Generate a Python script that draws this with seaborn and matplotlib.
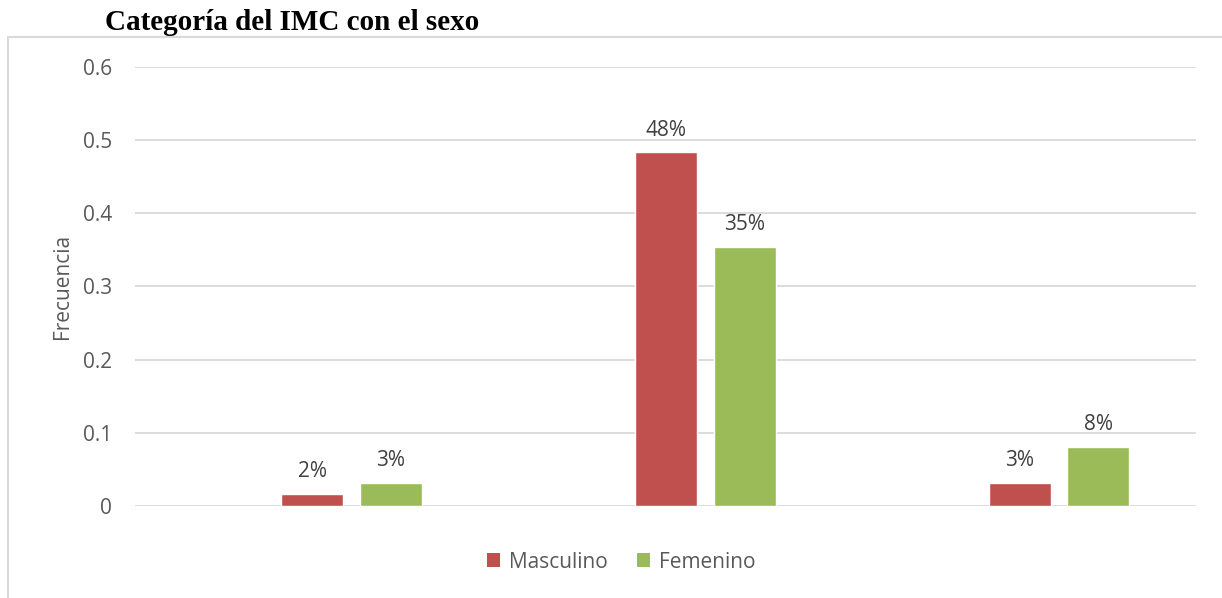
import matplotlib
matplotlib.use("Agg")
import matplotlib.pyplot as plt
from matplotlib.patches import Rectangle, Patch
import pandas as pd
import seaborn as sns

categorias = ["Bajo peso", "Normal", "Sobrepeso"]
masculino = [0.016, 0.483, 0.032]
femenino = [0.032, 0.354, 0.081]
series = ["Masculino", "Femenino"]
colores = {"Masculino": "#C0504D", "Femenino": "#9BBB59"}
y_ticks = [0, 0.1, 0.2, 0.3, 0.4, 0.5, 0.6]
y_tick_labels = ["0", "0.1", "0.2", "0.3", "0.4", "0.5", "0.6"]

df = pd.DataFrame({
    "categoria": categorias * 2,
    "sexo": [series[0]] * 3 + [series[1]] * 3,
    "frecuencia": masculino + femenino,
})

sns.set_theme(style="white")
plt.rcParams["font.family"] = ["Open Sans", "DejaVu Sans"]

fig = plt.figure(figsize=(12.22, 5.98), dpi=100)
ax = fig.add_axes([135 / 1222, 1 - 506 / 598, (1196 - 135) / 1222, (506 - 66.7) / 598])

# chart-area frame (left and top edges visible)
fig.patches.append(Rectangle((8 / 1222, -0.05), 1.2, 1 - 37 / 598 + 0.05,
                             transform=fig.transFigure, fill=False,
                             edgecolor="#D9D9D9", linewidth=1.5, zorder=0))

sns.barplot(data=df, x="categoria", y="frecuencia", hue="sexo",
            palette=colores, width=0.444, gap=0.21, legend=False,
            saturation=1, ax=ax, zorder=3)

ax.set_ylim(0, 0.6)
ax.set_xlim(-0.613, 2.388)
ax.set_yticks(y_ticks)
ax.set_yticklabels(y_tick_labels, color="#595959", fontsize=15)
ax.tick_params(axis="y", length=0, pad=16.5)
ax.set_xticks([])
ax.set_xlabel("")
ax.set_ylabel("Frecuencia", color="#595959", fontsize=15, labelpad=7)
for s in ax.spines.values():
    s.set_visible(False)
ax.yaxis.grid(True, color="#D9D9D9", linewidth=1.3)
ax.set_axisbelow(True)

for cont in ax.containers:
    ax.bar_label(cont, labels=[f"{v:.0%}" for v in cont.datavalues],
                 padding=8.5, color="#404040", fontsize=15)

fig.text(105 / 1222, 1 - 30 / 598, "Categoría del IMC con el sexo",
         family="Liberation Serif", fontweight="bold", fontsize=21,
         color="black", ha="left", va="baseline")

handles = [Patch(facecolor=colores[s], edgecolor="none") for s in series]
fig.legend(handles, series, loc="center", bbox_to_anchor=(621 / 1222, 1 - 562 / 598),
           ncol=2, frameon=False, fontsize=15, labelcolor="#595959",
           handlelength=0.65, handleheight=0.65, handletextpad=0.4, columnspacing=1.4)

fig.savefig("out.png", dpi=100)
